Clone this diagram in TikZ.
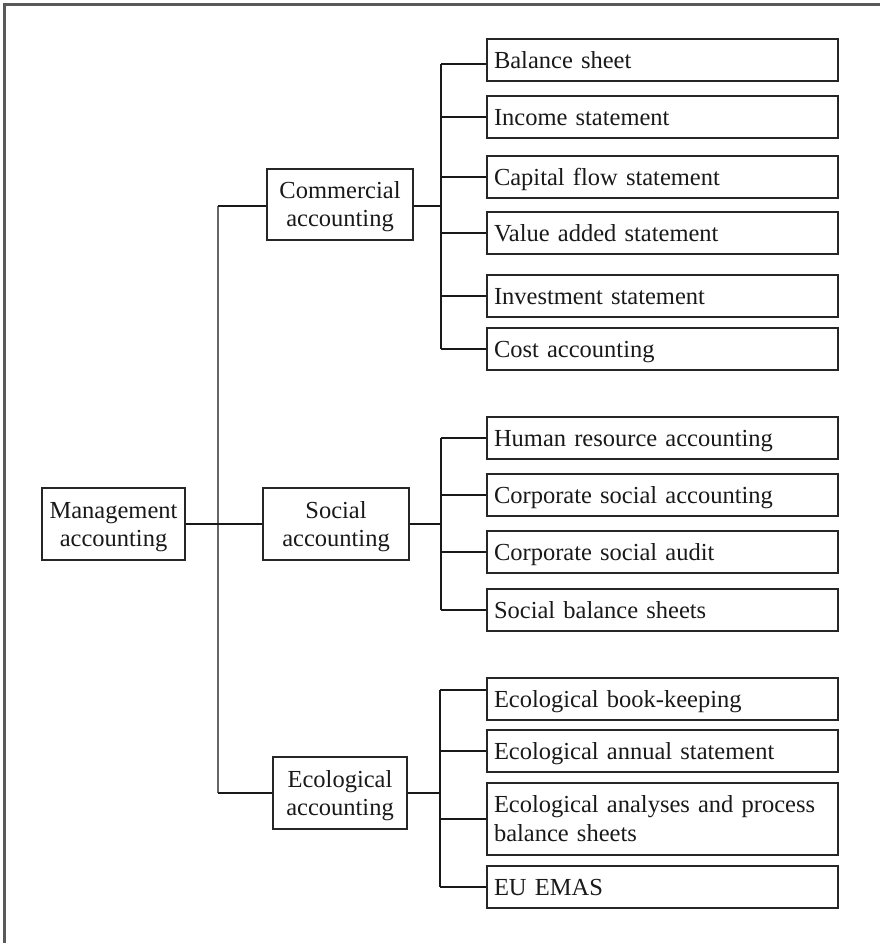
\documentclass[tikz,border=0pt]{standalone}
\usepackage{fontspec}
\setmainfont{Liberation Serif}
\begin{document}
\begin{tikzpicture}[x=1bp,y=-1bp,
  every node/.style={font=\fontsize{24.5bp}{28.4bp}\selectfont, text=black!90},
  box/.style={draw=black!85, line width=2bp, rectangle, inner sep=0pt},
  leaf/.style={box, minimum width=351bp, minimum height=42bp, text width=337bp,
               align=left, text height=16.3bp, text depth=0bp},
  leaftwo/.style={leaf, minimum height=72bp, text depth=28.5bp},
  mid/.style={box, minimum height=#1, align=center, text height=16.3bp, text depth=28.3bp},
  link/.style={line width=2bp, draw=black!90},
  trunk/.style={line width=1.4bp, draw=black!60},
  frame/.style={line width=2.5bp, draw=black!65}]

\useasboundingbox (0,0) rectangle (880,943);

% partial page frame (top and left edges)
\draw[frame] (4.3,943) -- (4.3,4.3) -- (880,4.3);

% root and second level
\node[mid=72bp, minimum width=143bp, text width=143bp] (mgmt) at (113.5,524) {Management\\accounting};
\node[mid=71bp, minimum width=146bp, text width=146bp] (com)  at (340,204.5) {Commercial\\accounting};
\node[mid=72bp, minimum width=146bp, text width=146bp] (soc)  at (336,524)   {Social\\accounting};
\node[mid=72bp, minimum width=134bp, text width=134bp] (eco)  at (340,793)   {Ecological\\accounting};

% commercial leaves
\node[leaf] (bal)  at (662.5,60)  {Balance sheet};
\node[leaf] (inc)  at (662.5,117) {Income statement};
\node[leaf] (cap)  at (662.5,177) {Capital flow statement};
\node[leaf] (val)  at (662.5,233) {Value added statement};
\node[leaf] (inv)  at (662.5,296) {Investment statement};
\node[leaf] (cost) at (662.5,349) {Cost accounting};

% social leaves
\node[leaf] (hum) at (662.5,438) {Human resource accounting};
\node[leaf] (csa) at (662.5,495) {Corporate social accounting};
\node[leaf] (aud) at (662.5,552) {Corporate social audit};
\node[leaf] (sbs) at (662.5,610) {Social balance sheets};

% ecological leaves
\node[leaf]    (ebk)  at (662.5,699) {Ecological book-keeping};
\node[leaf]    (ean)  at (662.5,751) {Ecological annual statement};
\node[leaftwo] (epb)  at (662.5,819) {Ecological analyses and process\\balance sheets};
\node[leaf]    (emas) at (662.5,887) {EU EMAS};

% ports that sit off the box centre line
\coordinate (balport) at ([yshift=-4bp]bal.west);
\coordinate (ebkport) at ([yshift=9bp]ebk.west);

% main trunk
\coordinate (ttop) at (218,206);
\coordinate (tbot) at (218,793);
\draw[trunk] (ttop) -- (tbot);
\draw[link] (mgmt.east) -- (soc.west);
\draw[link] (ttop) -- (ttop -| com.west);
\draw[link] (tbot) -- (tbot -| eco.west);

% commercial branch
\coordinate (cb) at (441,206);
\draw[link] (com.east |- cb) -- (cb);
\draw[link] (cb |- balport) -- (cb |- cost.west);
\draw[link] (cb |- balport) -- (balport);
\foreach \n in {inc,cap,val,inv,cost}
  \draw[link] (cb |- \n.west) -- (\n.west);

% social branch
\coordinate (sb) at (441,524);
\draw[link] (soc.east |- sb) -- (sb);
\draw[link] (sb |- hum.west) -- (sb |- sbs.west);
\foreach \n in {hum,csa,aud,sbs}
  \draw[link] (sb |- \n.west) -- (\n.west);

% ecological branch
\coordinate (eb) at (440,793);
\draw[link] (eco.east |- eb) -- (eb);
\draw[link] (eb |- ebkport) -- (eb |- emas.west);
\draw[link] (eb |- ebkport) -- (ebkport);
\foreach \n in {ean,epb,emas}
  \draw[link] (eb |- \n.west) -- (\n.west);

\end{tikzpicture}
\end{document}
